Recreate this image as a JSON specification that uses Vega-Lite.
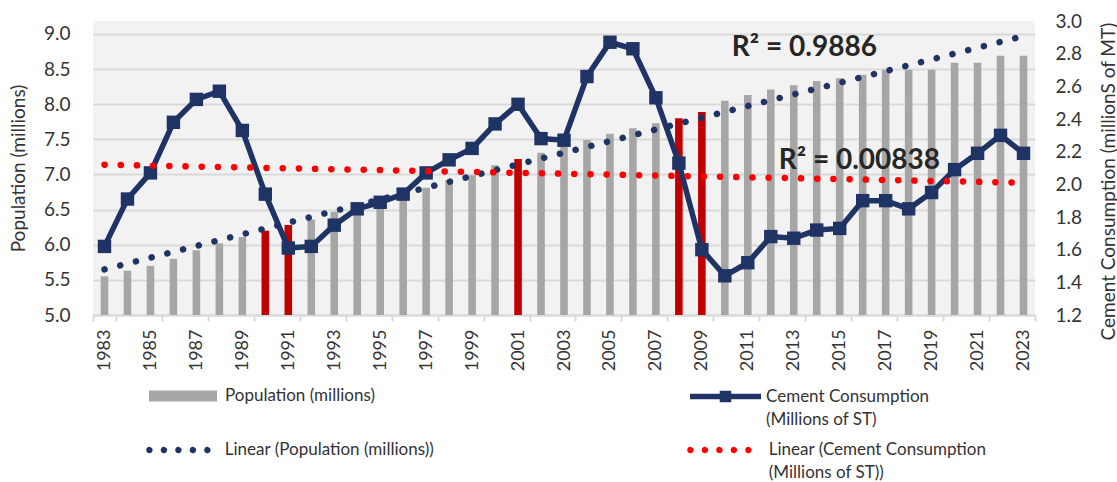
{
  "$schema": "https://vega.github.io/schema/vega-lite/v6.json",
  "width": 942,
  "height": 294,
  "autosize": {"type": "none"},
  "padding": {"left": 93, "top": 21, "right": 82, "bottom": 167},
  "background": "white",
  "config": {
    "font": "Lato",
    "view": {"fill": "#F2F2F2", "stroke": null},
    "axis": {"labelColor": "#333333", "titleColor": "#333333", "labelFont": "Lato", "titleFont": "Lato", "titleFontWeight": "normal"},
    "legend": {"labelFont": "Lato", "labelFontSize": 17, "labelColor": "#333333", "labelLimit": 400, "padding": 0, "title": null},
    "style": {"guide-label": {"lineHeight": 23}}
  },
  "datasets": {
    "main": [
      {"year": 1983, "pop": 5.55, "cement": 1.62, "recession": false},
      {"year": 1984, "pop": 5.63, "cement": 1.91, "recession": false},
      {"year": 1985, "pop": 5.70, "cement": 2.07, "recession": false},
      {"year": 1986, "pop": 5.80, "cement": 2.38, "recession": false},
      {"year": 1987, "pop": 5.92, "cement": 2.52, "recession": false},
      {"year": 1988, "pop": 6.02, "cement": 2.57, "recession": false},
      {"year": 1989, "pop": 6.11, "cement": 2.33, "recession": false},
      {"year": 1990, "pop": 6.20, "cement": 1.94, "recession": true},
      {"year": 1991, "pop": 6.28, "cement": 1.61, "recession": true},
      {"year": 1992, "pop": 6.36, "cement": 1.62, "recession": false},
      {"year": 1993, "pop": 6.47, "cement": 1.75, "recession": false},
      {"year": 1994, "pop": 6.52, "cement": 1.85, "recession": false},
      {"year": 1995, "pop": 6.55, "cement": 1.89, "recession": false},
      {"year": 1996, "pop": 6.64, "cement": 1.94, "recession": false},
      {"year": 1997, "pop": 6.81, "cement": 2.07, "recession": false},
      {"year": 1998, "pop": 6.92, "cement": 2.15, "recession": false},
      {"year": 1999, "pop": 6.99, "cement": 2.22, "recession": false},
      {"year": 2000, "pop": 7.13, "cement": 2.37, "recession": false},
      {"year": 2001, "pop": 7.22, "cement": 2.49, "recession": true},
      {"year": 2002, "pop": 7.31, "cement": 2.28, "recession": false},
      {"year": 2003, "pop": 7.40, "cement": 2.27, "recession": false},
      {"year": 2004, "pop": 7.49, "cement": 2.66, "recession": false},
      {"year": 2005, "pop": 7.58, "cement": 2.87, "recession": false},
      {"year": 2006, "pop": 7.66, "cement": 2.83, "recession": false},
      {"year": 2007, "pop": 7.73, "cement": 2.53, "recession": false},
      {"year": 2008, "pop": 7.80, "cement": 2.13, "recession": true},
      {"year": 2009, "pop": 7.89, "cement": 1.60, "recession": true},
      {"year": 2010, "pop": 8.05, "cement": 1.44, "recession": false},
      {"year": 2011, "pop": 8.13, "cement": 1.52, "recession": false},
      {"year": 2012, "pop": 8.21, "cement": 1.68, "recession": false},
      {"year": 2013, "pop": 8.27, "cement": 1.67, "recession": false},
      {"year": 2014, "pop": 8.33, "cement": 1.72, "recession": false},
      {"year": 2015, "pop": 8.37, "cement": 1.73, "recession": false},
      {"year": 2016, "pop": 8.42, "cement": 1.90, "recession": false},
      {"year": 2017, "pop": 8.49, "cement": 1.90, "recession": false},
      {"year": 2018, "pop": 8.49, "cement": 1.85, "recession": false},
      {"year": 2019, "pop": 8.49, "cement": 1.95, "recession": false},
      {"year": 2020, "pop": 8.59, "cement": 2.09, "recession": false},
      {"year": 2021, "pop": 8.59, "cement": 2.19, "recession": false},
      {"year": 2022, "pop": 8.69, "cement": 2.30, "recession": false},
      {"year": 2023, "pop": 8.69, "cement": 2.19, "recession": false}
    ],
    "trend": [
      {"year": 1983, "popTrend": 5.65, "cementTrend": 2.12},
      {"year": 2023, "popTrend": 8.97, "cementTrend": 2.01}
    ]
  },
  "data": {"name": "main"},
  "encoding": {
    "x": {
      "field": "year", "type": "ordinal",
      "scale": {"paddingInner": 0, "paddingOuter": 0},
      "axis": {
        "title": null,
        "values": [1983,1985,1987,1989,1991,1993,1995,1997,1999,2001,2003,2005,2007,2009,2011,2013,2015,2017,2019,2021,2023],
        "labelAngle": -90, "labelFontSize": 18, "labelPadding": 8,
        "tickBand": "extent", "tickSize": 6, "tickColor": "#D9D9D9", "tickWidth": 2,
        "domainColor": "#D9D9D9", "domainWidth": 2, "grid": false
      }
    }
  },
  "layer": [
    {
      "mark": {"type": "bar", "width": {"band": 0.33}},
      "encoding": {
        "y": {
          "field": "pop", "type": "quantitative",
          "scale": {"domain": [5, 9.185], "nice": false, "zero": false},
          "axis": {
            "orient": "left", "title": "Population (millions)",
            "values": [5, 5.5, 6, 6.5, 7, 7.5, 8, 8.5, 9], "format": ".1f",
            "grid": true, "gridColor": "#D9D9D9", "gridWidth": 2,
            "domain": false, "ticks": false, "tickSize": 0, "labelPadding": 23,
            "labelFontSize": 19, "titleFontSize": 19, "titleX": -75, "titleBaseline": "middle"
          }
        },
        "y2": {"datum": 5},
        "color": {
          "condition": {"test": "datum.recession", "value": "#C00000"},
          "datum": "Population (millions)",
          "scale": {"range": ["#A6A6A6"]},
          "legend": {
            "orient": "none", "legendX": 56, "legendY": 341,
            "symbolType": "M-1,-0.16H1V0.16H-1Z", "symbolSize": 4624, "symbolStrokeWidth": 0,
            "labelOffset": 8
          }
        }
      }
    },
    {
      "mark": {"type": "line", "strokeWidth": 5.5},
      "encoding": {
        "y": {
          "field": "cement", "type": "quantitative",
          "scale": {"domain": [1.2, 3.0], "nice": false, "zero": false},
          "axis": {
            "orient": "right", "title": "Cement Consumption (millionS of MT)",
            "values": [1.2, 1.4, 1.6, 1.8, 2.0, 2.2, 2.4, 2.6, 2.8, 3.0], "format": ".1f",
            "grid": false, "domain": false, "ticks": false, "tickSize": 0, "labelPadding": 20,
            "labelFontSize": 19, "titleFontSize": 19, "titleAngle": -90,
            "titleX": 73, "titleY": 319, "titleAlign": "left", "titleBaseline": "middle"
          }
        },
        "color": {
          "datum": "Cement Consumption|(Millions of ST)",
          "scale": {"range": ["#1F3464"]},
          "legend": {
            "orient": "none", "legendX": 594, "legendY": 337,
            "symbolType": "M-1,0H1M-0.085,-0.085H0.085V0.085H-0.085ZM0,-0.085V0.085",
            "symbolSize": 5041, "symbolStrokeWidth": 5.5,
            "labelOffset": 2, "labelExpr": "split(datum.label, '|')"
          }
        }
      }
    },
    {
      "mark": {"type": "point", "shape": "square", "filled": true, "size": 180, "opacity": 1, "color": "#1F3464"},
      "encoding": {
        "y": {"field": "cement", "type": "quantitative", "scale": {"domain": [1.2, 3.0], "nice": false, "zero": false}, "axis": null}
      }
    },
    {
      "data": {"name": "trend"},
      "mark": {"type": "line", "strokeWidth": 6.5, "strokeCap": "round"},
      "encoding": {
        "y": {"field": "popTrend", "type": "quantitative", "scale": {"domain": [5, 9.185], "nice": false, "zero": false}, "axis": null},
        "strokeDash": {"value": [0.1, 16.1]},
        "color": {
          "datum": "Linear (Population (millions))",
          "scale": {"range": ["#1F3464"]},
          "legend": {
            "orient": "none", "legendX": 51.4, "legendY": 395,
            "symbolType": "M-0.956,0A0.05,0.05 0 1,0 -0.856,0A0.05,0.05 0 1,0 -0.956,0ZM-0.503,0A0.05,0.05 0 1,0 -0.403,0A0.05,0.05 0 1,0 -0.503,0ZM-0.05,0A0.05,0.05 0 1,0 0.05,0A0.05,0.05 0 1,0 -0.05,0ZM0.403,0A0.05,0.05 0 1,0 0.503,0A0.05,0.05 0 1,0 0.403,0ZM0.856,0A0.05,0.05 0 1,0 0.956,0A0.05,0.05 0 1,0 0.856,0Z",
            "symbolSize": 4096, "symbolStrokeWidth": 3.2, "symbolDash": [1, 0],
            "labelOffset": 12.4
          }
        }
      }
    },
    {
      "data": {"name": "trend"},
      "mark": {"type": "line", "strokeWidth": 6.5, "strokeCap": "round"},
      "encoding": {
        "y": {"field": "cementTrend", "type": "quantitative", "scale": {"domain": [1.2, 3.0], "nice": false, "zero": false}, "axis": null},
        "strokeDash": {"value": [0.1, 16.1]},
        "color": {
          "datum": "Linear (Cement Consumption|(Millions of ST))",
          "scale": {"range": ["#FF0000"]},
          "legend": {
            "orient": "none", "legendX": 592.4, "legendY": 395,
            "symbolType": "M-0.956,0A0.05,0.05 0 1,0 -0.856,0A0.05,0.05 0 1,0 -0.956,0ZM-0.503,0A0.05,0.05 0 1,0 -0.403,0A0.05,0.05 0 1,0 -0.503,0ZM-0.05,0A0.05,0.05 0 1,0 0.05,0A0.05,0.05 0 1,0 -0.05,0ZM0.403,0A0.05,0.05 0 1,0 0.503,0A0.05,0.05 0 1,0 0.403,0ZM0.856,0A0.05,0.05 0 1,0 0.956,0A0.05,0.05 0 1,0 0.856,0Z",
            "symbolSize": 4096, "symbolStrokeWidth": 3.2, "symbolDash": [1, 0],
            "labelOffset": 15.4, "labelExpr": "split(datum.label, '|')"
          }
        }
      }
    },
    {
      "data": {"values": [{}]},
      "mark": {"type": "text", "text": "R² = 0.9886", "fontSize": 28, "fontWeight": "bold", "color": "#262626", "align": "left", "baseline": "middle", "dx": 7},
      "encoding": {
        "x": {"datum": 2010, "type": "ordinal"},
        "y": {"datum": 8.80, "type": "quantitative", "scale": {"domain": [5, 9.185], "nice": false, "zero": false}, "axis": null}
      }
    },
    {
      "data": {"values": [{}]},
      "mark": {"type": "text", "text": "R² = 0.00838", "fontSize": 28, "fontWeight": "bold", "color": "#262626", "align": "left", "baseline": "middle", "dx": 8},
      "encoding": {
        "x": {"datum": 2012, "type": "ordinal"},
        "y": {"datum": 2.145, "type": "quantitative", "scale": {"domain": [1.2, 3.0], "nice": false, "zero": false}, "axis": null}
      }
    }
  ],
  "resolve": {"scale": {"y": "independent", "color": "independent"}}
}
